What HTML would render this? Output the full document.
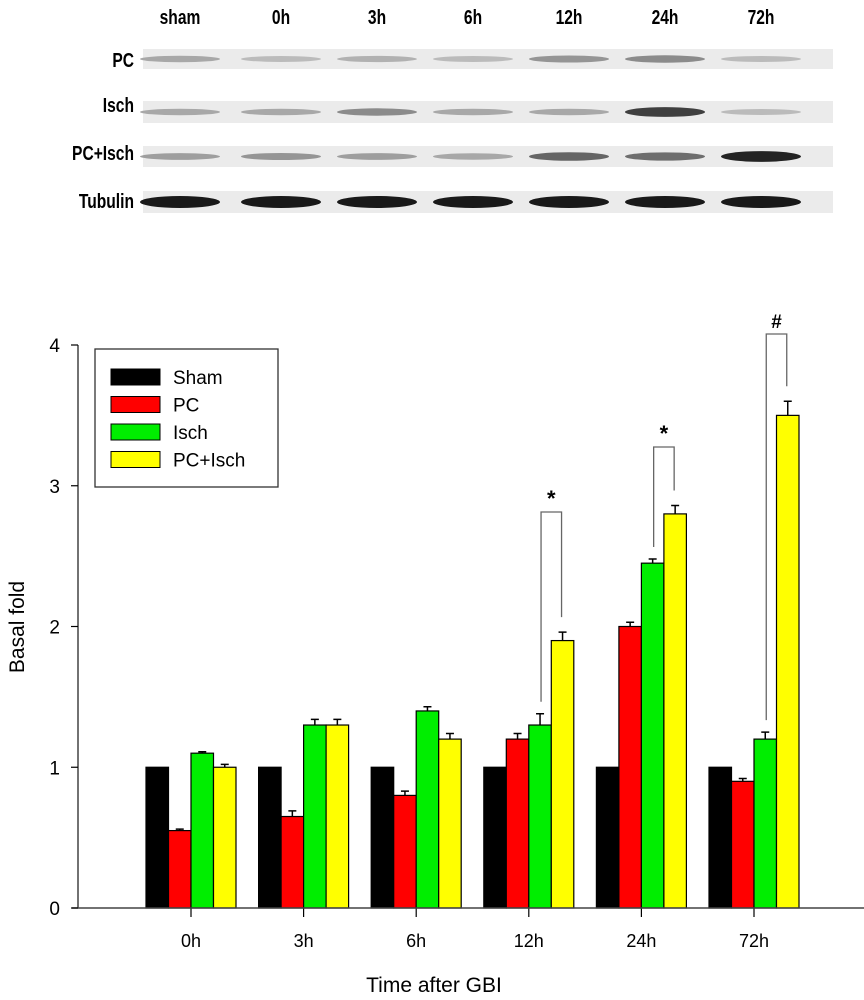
<!DOCTYPE html>
<html><head><meta charset="utf-8"><style>
body{margin:0;background:#fff;}
svg{display:block;font-family:"Liberation Sans",Arial,sans-serif;}
.bl{font-family:"Liberation Sans",sans-serif;font-weight:bold;font-size:20px;}
</style></head><body>
<svg id="fig" width="864" height="1000" viewBox="0 0 864 1000">
<g id="blot"></g>
<g id="chart"></g>
</svg>
<script>
const categories = ["0h","3h","6h","12h","24h","72h"];
const seriesNames = ["Sham","PC","Isch","PC+Isch"];
const shamVals = [1,1,1,1,1,1];
const pcVals = [0.55,0.65,0.8,1.2,2.0,0.9];
const ischVals = [1.1,1.3,1.4,1.3,2.45,1.2];
const pcIschVals = [1.0,1.3,1.2,1.9,2.8,3.5];
const shamErr = [0,0,0,0,0,0];
const pcErr = [0.01,0.04,0.03,0.04,0.03,0.02];
const ischErr = [0.01,0.04,0.03,0.08,0.03,0.05];
const pcIschErr = [0.02,0.04,0.04,0.06,0.06,0.1];
const yTicks = [0,1,2,3,4];
const blotLanes = ["sham","0h","3h","6h","12h","24h","72h"];
const blotRows = ["PC","Isch","PC+Isch","Tubulin"];
const blotPC = [0.25,0.15,0.2,0.15,0.35,0.4,0.15];
const blotIsch = [0.25,0.25,0.4,0.25,0.25,0.8,0.15];
const blotPCIsch = [0.3,0.35,0.3,0.25,0.6,0.55,0.95];
const blotTub = [1,1,1,1,1,1,1];

const NS="http://www.w3.org/2000/svg";
function mk(tag,attrs,parent,text){const e=document.createElementNS(NS,tag);for(const k in attrs)e.setAttribute(k,attrs[k]);if(text!==undefined)e.textContent=text;parent.appendChild(e);return e;}

const chart=document.getElementById('chart');
const y0=908, yPer=140.75;
const yScale=v=>y0-v*yPer;
const xCenter=i=>191+i*112.6;
const colors=["#000000","#ff0000","#00ee00","#ffff00"];
const vals=[shamVals,pcVals,ischVals,pcIschVals];
const errs=[shamErr,pcErr,ischErr,pcIschErr];
const bw=22.5;

categories.forEach((c,i)=>{
  vals.forEach((s,j)=>{
    const x=xCenter(i)-45+j*bw, y=yScale(s[i]);
    const r=mk('rect',{x:x,y:y,width:bw,height:y0-y,fill:colors[j],stroke:'#000','stroke-width':1.2},chart);
    
    
    if(errs[j][i]>0){
      const ey=yScale(s[i]+errs[j][i]), cx=x+bw/2;
      const e=mk('path',{d:`M${cx},${y}V${ey}M${cx-4},${ey}H${cx+4}`,stroke:'#000','stroke-width':1.5,fill:'none'},chart);
      
      
    }
  });
  const t=mk('line',{x1:xCenter(i),x2:xCenter(i),y1:y0,y2:y0+9,stroke:'#000','stroke-width':1.2},chart);
  
  
  const l=mk('text',{x:xCenter(i),y:947,'text-anchor':'middle','font-size':18},chart,c);
  
  
});
const ax=mk('path',{d:`M78,${yScale(4)}V${y0}M72,${y0}H864`,stroke:'#444','stroke-width':1.5,fill:'none'},chart);


yTicks.forEach(v=>{
  const t=mk('line',{x1:71,x2:78,y1:yScale(v),y2:yScale(v),stroke:'#000','stroke-width':1.2},chart);
  
  
  const l=mk('text',{x:60,y:yScale(v)+7,'text-anchor':'end','font-size':19},chart,String(v));
  
  
});
const yt=mk('text',{x:0,y:0,transform:'translate(24,627) rotate(-90)','text-anchor':'middle','font-size':21},chart,'Basal fold');


const xt=mk('text',{x:434,y:992,'text-anchor':'middle','font-size':21},chart,'Time after GBI');


const br=[[3,1.3,'*'],[4,2.45,'*'],[5,1.2,'#']];
const tops=[512,447,334];
br.forEach((b,k)=>{
  const i=b[0];
  const xl=xCenter(i)+bw*0.5+1, xr=xCenter(i)+bw*1.5-1;
  const yl=yScale(b[1]+errs[2][i])-12;
  const yr=yScale(pcIschVals[i]+pcIschErr[i])-15;
  const p=mk('path',{d:`M${xl},${yl}V${tops[k]}H${xr}V${yr}`,stroke:'#666','stroke-width':1.3,fill:'none'},chart);
  
  
  const s=mk('text',{x:(xl+xr)/2,y:tops[k]-6,'text-anchor':'middle','font-size':b[2]=='*'?22:19,'font-weight':'bold'},chart,b[2]);
  
  
});
const lg=mk('g',{},chart);


mk('rect',{x:95,y:349,width:183,height:138,fill:'#fff',stroke:'#333','stroke-width':1.3},lg);
seriesNames.forEach((n,j)=>{
  const y=369+j*27.5;
  const e=mk('g',{},lg);
  
  
  mk('rect',{x:111,y:y,width:49,height:16,fill:colors[j],stroke:'#000','stroke-width':1},e);
  mk('text',{x:173,y:y+15,'font-size':19},e,n);
});

const blot=document.getElementById('blot');
const laneX=i=>185+i*96;
blotLanes.forEach((n,i)=>{
  const x=laneX(i)+(i==0?-5:0);
  const t=mk('text',{x:0,y:0,transform:`translate(${x},24) scale(0.78,1)`,'text-anchor':'middle',class:'bl'},blot,n);
  
  
});
const rowY=[49,101,146,191], rowH=[20,22,21,22], rowLY=[67,112,160,208];
const rowData=[blotPC,blotIsch,blotPCIsch,blotTub];
blotRows.forEach((n,r)=>{
  const l=mk('text',{x:0,y:0,transform:`translate(134,${rowLY[r]}) scale(0.78,1)`,'text-anchor':'end',class:'bl'},blot,n);
  
  
  const s=mk('rect',{x:143,y:rowY[r],width:690,height:rowH[r],fill:'#ebebeb'},blot);
  
  
  rowData[r].forEach((v,i)=>{
    const g=Math.round(215-v*190);
    const b=mk('ellipse',{cx:laneX(i)+(i==0?-5:0),cy:rowY[r]+rowH[r]/2,rx:40,ry:r==3?6:2.5+v*3,fill:`rgb(${g},${g},${g})`},blot);
    
    
  });
});
</script>
</body></html>
